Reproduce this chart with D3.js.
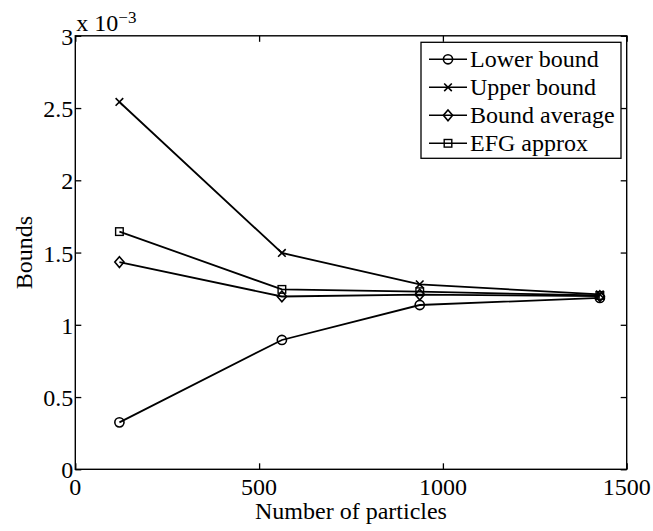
<!DOCTYPE html>
<html>
<head>
<meta charset="utf-8">
<script src="https://cdn.jsdelivr.net/npm/d3@7"></script>
<style>
  html, body { margin: 0; padding: 0; background: #fff; }
  svg text { font-family: "Liberation Serif", "Times New Roman", serif; fill: #000; }
</style>
</head>
<body>
<svg id="chart" width="653" height="531"></svg>
<script>
// Particle counts and the four bound estimates (in units of 1e-3)
const particles = [120, 562, 937, 1427];
const lowerBound = [0.325, 0.895, 1.137, 1.186];
const upperBound = [2.542, 1.497, 1.280, 1.210];
const boundAverage = [1.434, 1.196, 1.209, 1.198];
const efgApprox = [1.645, 1.245, 1.229, 1.203];

const seriesNames = ["Lower bound", "Upper bound", "Bound average", "EFG approx"];
const seriesSymbols = ["circle", "cross", "diamond", "square"];
const seriesValues = [lowerBound, upperBound, boundAverage, efgApprox];

const xTicks = [0, 500, 1000, 1500];
const yTicks = [0, 0.5, 1, 1.5, 2, 2.5, 3];
const yTickLabels = ["0", "0.5", "1", "1.5", "2", "2.5", "3"];

const svg = d3.select("#chart");
const plot = { left: 75.3, right: 626.7, top: 35.8, bottom: 469.3 };

const x = d3.scaleLinear().domain([0, 1500]).range([plot.left, plot.right]);
const y = d3.scaleLinear().domain([0, 3]).range([plot.bottom, plot.top]);

const fontSize = 24;
const tickLen = 6;

// Ticks pointing inward on all four sides
const bottomAxis = d3.axisBottom(x).tickValues(xTicks).tickSize(-tickLen).tickFormat("");
const topAxis = d3.axisTop(x).tickValues(xTicks).tickSize(-tickLen).tickFormat("");
const leftAxis = d3.axisLeft(y).tickValues(yTicks).tickSize(-tickLen).tickFormat("");
const rightAxis = d3.axisRight(y).tickValues(yTicks).tickSize(-tickLen).tickFormat("");

function styleAxis(g) {
  g.select(".domain").remove();
  g.selectAll(".tick line").attr("stroke", "#000").attr("stroke-width", 1.3);
}
svg.append("g").attr("transform", `translate(0,${plot.bottom})`).call(bottomAxis).call(styleAxis);
svg.append("g").attr("transform", `translate(0,${plot.top})`).call(topAxis).call(styleAxis);
svg.append("g").attr("transform", `translate(${plot.left},0)`).call(leftAxis).call(styleAxis);
svg.append("g").attr("transform", `translate(${plot.right},0)`).call(rightAxis).call(styleAxis);

// Frame
svg.append("rect")
  .attr("x", plot.left).attr("y", plot.top)
  .attr("width", plot.right - plot.left).attr("height", plot.bottom - plot.top)
  .attr("fill", "none").attr("stroke", "#000").attr("stroke-width", 1.4);

// Tick labels
svg.append("g").selectAll("text").data(xTicks).join("text")
  .attr("x", d => x(d)).attr("y", plot.bottom + 26)
  .attr("text-anchor", "middle").attr("font-size", fontSize)
  .text(d => d);

svg.append("g").selectAll("text").data(yTicks).join("text")
  .attr("x", plot.left - 2).attr("y", d => y(d) + 9)
  .attr("text-anchor", "end").attr("font-size", fontSize)
  .text((d, i) => yTickLabels[i]);

// Exponent multiplier
const mult = svg.append("text").attr("x", plot.left + 1).attr("y", 30.5).attr("font-size", fontSize);
mult.append("tspan").text("x 10");
mult.append("tspan").attr("dy", -8).attr("font-size", 17).text("\u22123");

// Axis titles
svg.append("text")
  .attr("x", (plot.left + plot.right) / 2).attr("y", 519)
  .attr("text-anchor", "middle").attr("font-size", fontSize)
  .text("Number of particles");

svg.append("text")
  .attr("transform", `translate(32,${(plot.top + plot.bottom) / 2}) rotate(-90)`)
  .attr("text-anchor", "middle").attr("font-size", fontSize)
  .text("Bounds");

// Marker drawing
function drawMarker(g, kind, cx, cy) {
  const s = "#000";
  if (kind === "circle") {
    g.append("circle").attr("cx", cx).attr("cy", cy).attr("r", 4.6)
      .attr("fill", "none").attr("stroke", s).attr("stroke-width", 1.6);
  } else if (kind === "cross") {
    const r = 3.8;
    g.append("path")
      .attr("d", `M${cx - r},${cy - r}L${cx + r},${cy + r}M${cx - r},${cy + r}L${cx + r},${cy - r}`)
      .attr("stroke", s).attr("stroke-width", 1.6).attr("fill", "none");
  } else if (kind === "diamond") {
    const rx = 4.6, ry = 5.4;
    g.append("path")
      .attr("d", `M${cx},${cy - ry}L${cx + rx},${cy}L${cx},${cy + ry}L${cx - rx},${cy}Z`)
      .attr("stroke", s).attr("stroke-width", 1.6).attr("fill", "none");
  } else if (kind === "square") {
    const r = 3.8;
    g.append("rect").attr("x", cx - r).attr("y", cy - r).attr("width", 2 * r).attr("height", 2 * r)
      .attr("stroke", s).attr("stroke-width", 1.4).attr("fill", "none");
  }
}

const line = d3.line().x(d => x(d[0])).y(d => y(d[1]));

seriesValues.forEach((vals, i) => {
  const pts = particles.map((p, j) => [p, vals[j]]);
  const g = svg.append("g");
  g.append("path").datum(pts).attr("d", line)
    .attr("fill", "none").attr("stroke", "#000").attr("stroke-width", 1.8);
  pts.forEach(p => drawMarker(g, seriesSymbols[i], x(p[0]), y(p[1])));
});

// Legend
const legend = { left: 421, top: 42.3, width: 200, height: 116, rowStart: 59.3, rowStep: 28 };
const lg = svg.append("g");
lg.append("rect")
  .attr("x", legend.left).attr("y", legend.top)
  .attr("width", legend.width).attr("height", legend.height)
  .attr("fill", "#fff").attr("stroke", "#000").attr("stroke-width", 1.3);
seriesNames.forEach((name, i) => {
  const cy = legend.rowStart + i * legend.rowStep;
  lg.append("line").attr("x1", legend.left + 8).attr("x2", legend.left + 46)
    .attr("y1", cy).attr("y2", cy).attr("stroke", "#000").attr("stroke-width", 1.6);
  drawMarker(lg, seriesSymbols[i], legend.left + 27, cy);
  lg.append("text").attr("x", legend.left + 49).attr("y", cy + 8)
    .attr("font-size", fontSize).text(name);
});
</script>
</body>
</html>
